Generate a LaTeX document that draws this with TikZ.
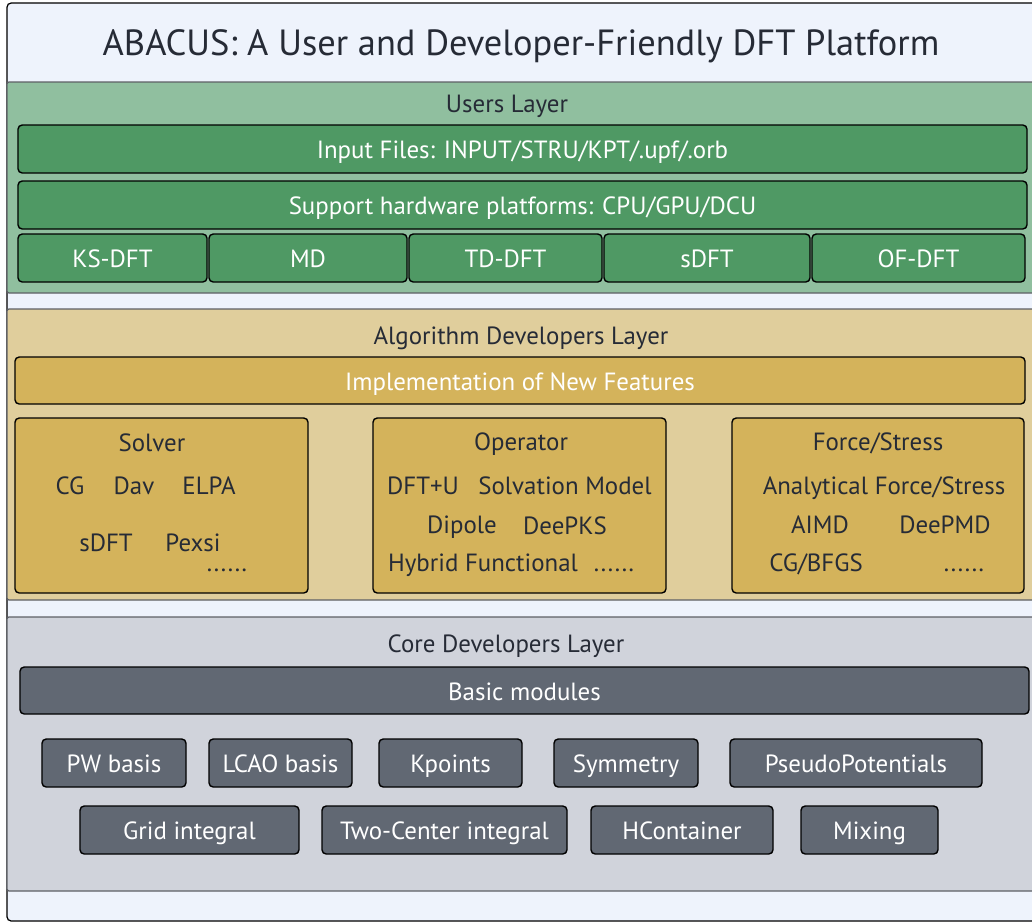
\documentclass[tikz,border=0pt]{standalone}
\usepackage{fontspec}
\setmainfont{PT Sans}

\definecolor{framebg}{HTML}{EEF3FC}
\definecolor{layerline}{HTML}{5E6066}
\definecolor{textdark}{HTML}{262B36}
\definecolor{userbg}{HTML}{90BF9F}
\definecolor{usergreen}{HTML}{4F9964}
\definecolor{algobg}{HTML}{E0CE9C}
\definecolor{algogold}{HTML}{D4B35B}
\definecolor{corebg}{HTML}{D0D3DB}
\definecolor{coregray}{HTML}{616873}

\tikzset{
    frame/.style={draw=black, line width=0.9pt, rounded corners=3pt, fill=framebg},
    layer/.style={draw=layerline, line width=0.9pt, rounded corners=1.5pt},
    blk/.style={draw=black, line width=1pt, rounded corners=3pt, inner sep=0pt,
        text height=14pt, text depth=0pt},
    greenblk/.style={blk, fill=usergreen, text=white},
    goldblk/.style={blk, fill=algogold, text=textdark},
    grayblk/.style={blk, fill=coregray, text=white},
    lbl/.style={text=textdark, anchor=base, inner sep=0pt}
}

% box from pixel corners (x1,y1) to (x2,y2)
\newcommand{\pxbox}[7]{%
    \pgfmathsetmacro\bw{(#5-#3)*0.025}%
    \pgfmathsetmacro\bh{(#6-#4)*0.025}%
    \node[#1, minimum width=\bw cm, minimum height=\bh cm] (#2) at ({(#3+#5)/2},{(#4+#6)/2}) {#7};}

\begin{document}
\begin{tikzpicture}[x=0.025cm, y=-0.025cm, font=\fontsize{17.7}{21}\selectfont]
    \path[use as bounding box, clip] (0,0) rectangle (1032,923);

    % Frame and title
    \pxbox{frame}{frame}{7}{3}{1045}{921}{}
    \node[lbl, font=\fontsize{25.9}{30}\selectfont] (title) at (521,55) {ABACUS: A User and Developer-Friendly DFT Platform};

    % Users layer
    \pxbox{layer, fill=userbg}{users}{7}{82}{1045}{293}{}
    \node[lbl] (usersT) at (507,112) {Users Layer};
    \pxbox{greenblk}{input}{18}{125}{1027}{173}{Input Files: INPUT/STRU/KPT/.upf/.orb}
    \pxbox{greenblk}{hw}{18}{181}{1027}{229}{Support hardware platforms: CPU/GPU/DCU}
    \pxbox{greenblk}{ksdft}{18}{234}{207}{282}{KS-DFT}
    \pxbox{greenblk}{md}{209}{234}{407}{282}{MD}
    \pxbox{greenblk}{tddft}{409}{234}{602}{282}{TD-DFT}
    \pxbox{greenblk}{sdft}{604}{234}{810}{282}{sDFT}
    \pxbox{greenblk}{ofdft}{812}{234}{1025}{282}{OF-DFT}

    % Algorithm developers layer
    \pxbox{layer, fill=algobg}{algo}{7}{309}{1045}{600}{}
    \node[lbl] (algoT) at (521,344) {Algorithm Developers Layer};
    \pxbox{goldblk, text=white}{impl}{15}{357}{1025}{404}{Implementation of New Features}
    \pxbox{goldblk}{solver}{15}{418}{308}{593}{}
    \pxbox{goldblk}{oper}{373}{418}{666}{593}{}
    \pxbox{goldblk}{force}{732}{418}{1024}{593}{}

    % Solver
    \node[lbl] (solverT) at (152,451) {Solver};
    \node[lbl] (cg) at (70,494) {CG};
    \node[lbl] (dav) at (134,494) {Dav};
    \node[lbl] (elpa) at (209,494) {ELPA};
    \node[lbl] (sdftS) at (106,551) {sDFT};
    \node[lbl] (pexsi) at (193,551) {Pexsi};
    \node[lbl] (dotsS) at (227,571) {......};

    % Operator
    \node[lbl] (operT) at (521,450) {Operator};
    \node[lbl] (dftu) at (423,494) {DFT+U};
    \node[lbl] (solv) at (565,494) {Solvation Model};
    \node[lbl] (dipole) at (462,533) {Dipole};
    \node[lbl] (deepks) at (565,534) {DeePKS};
    \node[lbl] (hybrid) at (483,571) {Hybrid Functional};
    \node[lbl] (dotsO) at (614,571) {......};

    % Force/Stress
    \node[lbl] (forceT) at (878,450) {Force/Stress};
    \node[lbl] (analyt) at (884,494) {Analytical Force/Stress};
    \node[lbl] (aimd) at (820,533) {AIMD};
    \node[lbl] (deepmd) at (945,533) {DeePMD};
    \node[lbl] (bfgs) at (816,571) {CG/BFGS};
    \node[lbl] (dotsF) at (964,571) {......};

    % Core developers layer
    \pxbox{layer, fill=corebg}{core}{7}{617}{1045}{891}{}
    \node[lbl] (coreT) at (506,652) {Core Developers Layer};
    \pxbox{grayblk}{basic}{20}{667}{1029}{714}{Basic modules}
    \pxbox{grayblk}{pw}{42}{739}{186}{787}{PW basis}
    \pxbox{grayblk}{lcao}{209}{739}{352}{787}{LCAO basis}
    \pxbox{grayblk}{kpts}{379}{739}{522}{787}{Kpoints}
    \pxbox{grayblk}{symm}{554}{739}{698}{787}{Symmetry}
    \pxbox{grayblk}{pseudo}{730}{739}{982}{787}{PseudoPotentials}
    \pxbox{grayblk}{grid}{80}{806}{299}{854}{Grid integral}
    \pxbox{grayblk}{twoc}{322}{806}{567}{854}{Two-Center integral}
    \pxbox{grayblk}{hcont}{591}{806}{773}{854}{HContainer}
    \pxbox{grayblk}{mixing}{801}{806}{938}{854}{Mixing}
\end{tikzpicture}
\end{document}
